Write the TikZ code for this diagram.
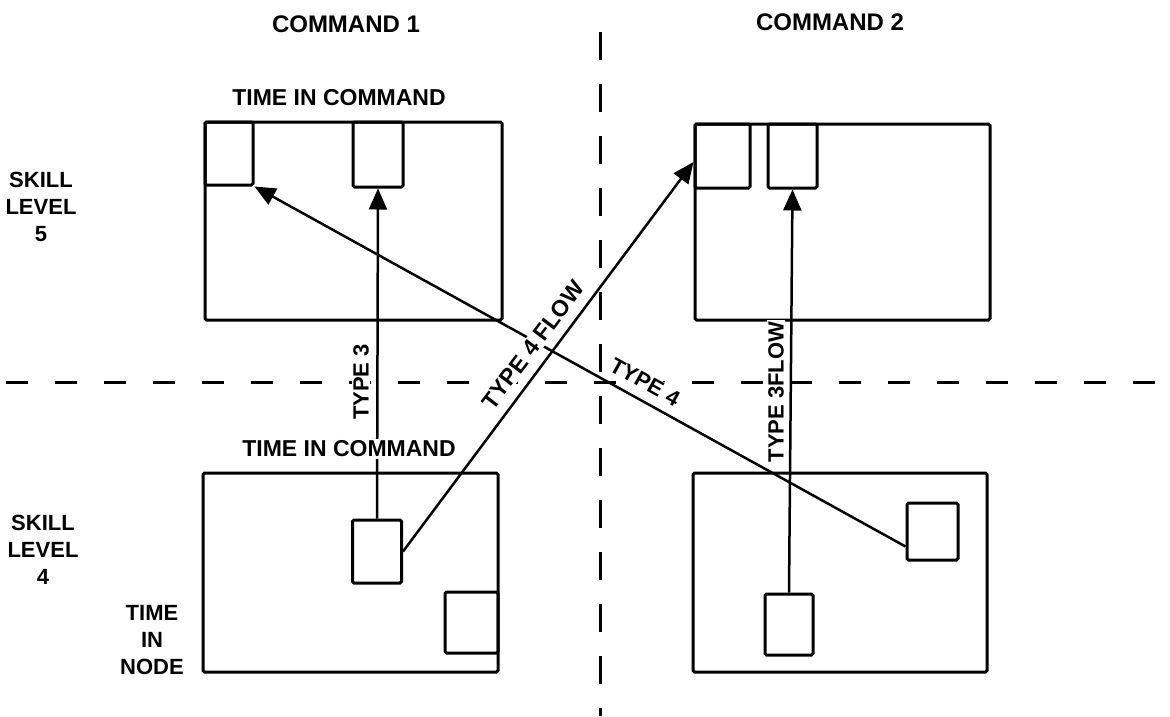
\documentclass[tikz,border=0pt]{standalone}
\usepackage{fontspec}
\setmainfont{Liberation Sans}
\usetikzlibrary{arrows.meta}
\begin{document}
\begin{tikzpicture}[x=1pt,y=-1pt,
  bigbox/.style={draw,line width=3pt,inner sep=0pt,rounded corners=1.5pt},
  smallbox/.style={draw,line width=3pt,inner sep=0pt,rounded corners=1.5pt},
  flow/.style={line width=2.5pt,-{Triangle[length=21pt,width=18pt]}},
  hgrid/.style={line width=3pt,dash pattern=on 22pt off 27pt},
  vgrid/.style={line width=3pt,dash pattern=on 28pt off 24pt},
  lbl/.style={font=\fontsize{22}{27}\selectfont\bfseries,inner sep=0pt},
  head/.style={font=\fontsize{24}{28}\selectfont\bfseries,inner sep=0pt},
  tag/.style={lbl,fill=white,inner sep=1.5pt}]
\useasboundingbox (0,0) rectangle (1170,716);
% dashed dividers
\coordinate (hl) at (6,382);
\coordinate (hr) at (1170,382);
\coordinate (vt) at (600,32);
\coordinate (vb) at (600,716);
\draw[hgrid] (hl) -- (hr);
\draw[vgrid] (vt) -- (vb);
% big boxes
\node[bigbox,minimum width=297pt,minimum height=198pt] (tl) at (353.5,221) {};
\node[bigbox,minimum width=295pt,minimum height=196pt] (tr) at (842.5,222) {};
\node[bigbox,minimum width=295pt,minimum height=199pt] (bl) at (350.5,572.5) {};
\node[bigbox,minimum width=294pt,minimum height=199pt] (br) at (840,572.5) {};
% small boxes
\node[smallbox,minimum width=48pt,minimum height=63pt] (tla) at (229,153.5) {};
\node[smallbox,minimum width=50pt,minimum height=65pt] (tlb) at (378,154.5) {};
\node[smallbox,minimum width=55pt,minimum height=64pt] (tra) at (722.5,156) {};
\node[smallbox,minimum width=49pt,minimum height=64pt] (trb) at (792.5,156) {};
\node[smallbox,minimum width=49pt,minimum height=63pt] (bla) at (377,551.5) {};
\node[smallbox,minimum width=53pt,minimum height=61pt] (blb) at (471.5,622.5) {};
\node[smallbox,minimum width=51pt,minimum height=57pt] (bra) at (932.5,531.5) {};
\node[smallbox,minimum width=48pt,minimum height=61pt] (brb) at (789,624.5) {};
% flows
\draw[flow] (bla.north) -- (tlb.south);
\draw[flow] (brb.north) -- (trb.south);
\draw[flow] (bla.east) -- ([yshift=-6pt]tra.west);
\draw[flow] ([yshift=-15pt]bra.west) -- (tla.south east);
% labels
\node[head] (c1) at (346,24) {COMMAND 1};
\node[head] (c2) at (830,22) {COMMAND 2};
\node[lbl,font=\fontsize{23}{27}\selectfont\bfseries] (tic1) at (339,98) {TIME IN COMMAND};
\node[tag,font=\fontsize{23}{27}\selectfont\bfseries] (tic2) at (349,449) {TIME IN COMMAND};
\node[lbl,align=center] (sl5) at (41,207) {SKILL\\LEVEL\\5};
\node[lbl,align=center] (sl4) at (43,550) {SKILL\\LEVEL\\4};
\node[lbl,align=center] (tin) at (152,640) {TIME\\IN\\NODE};
\node[tag,rotate=90] (t3) at (361,382) {TYPE 3};
\node[tag,rotate=90] (t3f) at (776,392) {TYPE 3FLOW};
\node[tag,rotate=53,font=\fontsize{23}{27}\selectfont\bfseries] (t4f) at (533,345) {TYPE 4 FLOW};
\node[tag,rotate=-29] (t4) at (645,382) {TYPE 4};
\end{tikzpicture}
\end{document}
